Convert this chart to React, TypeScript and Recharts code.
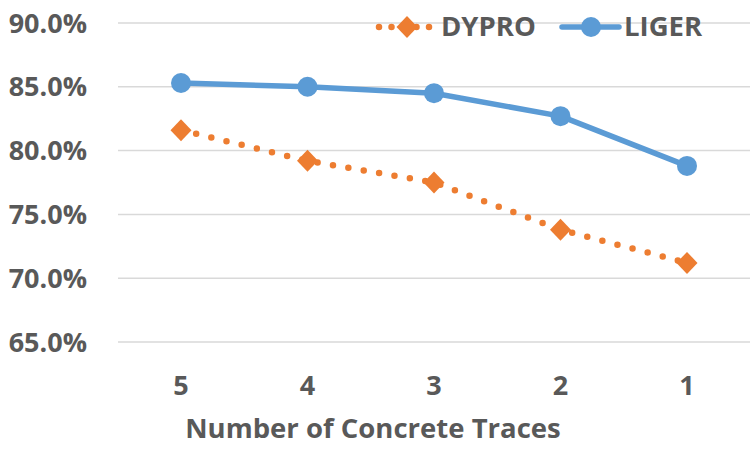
import React from 'react';
import { LineChart, Line, XAxis, YAxis, CartesianGrid } from 'recharts';

const categories = ['5', '4', '3', '2', '1'];
const dyproValues = [0.816, 0.792, 0.775, 0.738, 0.712];
const ligerValues = [0.853, 0.850, 0.845, 0.827, 0.788];
const yTicks = [0.65, 0.7, 0.75, 0.8, 0.85, 0.9];
const seriesNames = ['DYPRO', 'LIGER'];
const axisTitle = 'Number of Concrete Traces';

const ORANGE = '#ED7D31';
const BLUE = '#5B9BD5';
const TEXT = '#595959';
const FONT = '"Open Sans", Lato, sans-serif';

const data = categories.map((c, i) => ({
  cat: c,
  [seriesNames[0]]: dyproValues[i],
  [seriesNames[1]]: ligerValues[i],
}));

const Diamond = (props: any) => {
  const { cx, cy, index } = props;
  if (cx == null || cy == null) return <g key={`d-${index}`} />;
  return (
    <path
      key={`d-${index}`}
      d={`M${cx},${cy - 11} L${cx + 10.5},${cy} L${cx},${cy + 11} L${cx - 10.5},${cy} Z`}
      fill={ORANGE}
    />
  );
};

const tickStyle = { fill: TEXT, fontSize: 27, fontWeight: 700, fontFamily: FONT };

export default function App() {
  return (
    <div style={{ position: 'absolute', left: 0, top: 0, width: 750, height: 450, background: '#fff' }}>
      <LineChart width={750} height={450} data={data} margin={{ top: 23, right: 0, left: 0, bottom: 0 }}>
        <CartesianGrid vertical={false} stroke="#D9D9D9" strokeWidth={1.5} />
        <XAxis
          dataKey="cat"
          scale="point"
          padding={{ left: 63, right: 63 }}
          axisLine={false}
          tickLine={false}
          tickMargin={28}
          height={108}
          tick={tickStyle}
          interval={0}
        />
        <YAxis
          width={118}
          domain={[0.65, 0.9]}
          ticks={yTicks}
          type="number"
          axisLine={false}
          tickLine={false}
          tickMargin={25}
          tick={tickStyle}
          tickFormatter={(v: number) => (v * 100).toFixed(1) + '%'}
          interval={0}
        />
        <Line
          dataKey={seriesNames[0]}
          stroke={ORANGE}
          strokeWidth={6.5}
          strokeDasharray="0 15.6"
          strokeLinecap="round"
          dot={Diamond}
          activeDot={false}
          isAnimationActive={false}
        />
        <Line
          dataKey={seriesNames[1]}
          stroke={BLUE}
          strokeWidth={5.5}
          strokeLinejoin="round"
          dot={{ r: 10, fill: BLUE, stroke: BLUE, strokeWidth: 0 }}
          activeDot={false}
          isAnimationActive={false}
        />
      </LineChart>
      <svg width={750} height={450} style={{ position: 'absolute', left: 0, top: 0, pointerEvents: 'none' }}>
        <g>
          <line x1={379} y1={27} x2={432} y2={27} stroke={ORANGE} strokeWidth={6.5} strokeDasharray="0 12.5" strokeLinecap="round" />
          <path d="M407,16 L417.5,27 L407,38 L396.5,27 Z" fill={ORANGE} />
          <text x={441} y={36} fill={TEXT} fontSize={27.5} fontWeight={700} fontFamily={FONT}>{seriesNames[0]}</text>
        </g>
        <g>
          <line x1={562} y1={27} x2={619} y2={27} stroke={BLUE} strokeWidth={5.5} strokeLinecap="round" />
          <circle cx={591} cy={27} r={10} fill={BLUE} />
          <text x={624} y={36} fill={TEXT} fontSize={27.5} fontWeight={700} fontFamily={FONT}>{seriesNames[1]}</text>
        </g>
        <text x={373} y={438} textAnchor="middle" fill={TEXT} fontSize={27.5} fontWeight={700} fontFamily={FONT}>{axisTitle}</text>
      </svg>
    </div>
  );
}
